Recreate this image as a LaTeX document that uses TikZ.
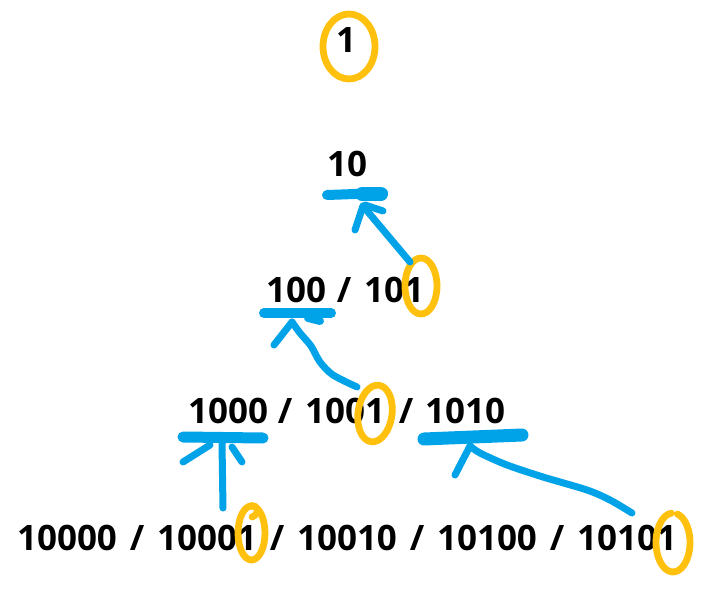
\documentclass[tikz,border=0pt]{standalone}
\usepackage{fontspec}
\setmainfont{Open Sans}
\definecolor{inkblue}{RGB}{0,162,232}
\definecolor{inkyellow}{RGB}{255,193,14}
\begin{document}
\begin{tikzpicture}[x=1pt,y=-1pt,
  num/.style={font=\fontsize{35}{42}\selectfont\bfseries, inner sep=0pt, anchor=base, text=black},
  bar/.style={draw=inkblue, line width=11pt, line cap=round},
  stroke/.style={draw=inkblue, line width=7pt, line cap=round, line join=round},
  ring/.style={draw=inkyellow, line width=6.8pt, line cap=round, line join=round}]
\fill[white] (0,0) rectangle (710,594);
\useasboundingbox (0,0) rectangle (710,594);

% text
\node[num] (n1) at (346,53) {1};
\node[num] (n10) at (347,176) {10};
\node[num] (n100) at (296,302) {100};
\node[num] (s1) at (344,302) {/};
\node[num] (n101) at (394,302) {101};
\node[num] (n1000) at (228,423) {1000};
\node[num] (s2) at (285,423) {/};
\node[num] (n1001) at (345,423) {1001};
\node[num] (s3) at (406,423) {/};
\node[num] (n1010) at (465,423) {1010};
\node[num] (n10000) at (67,550) {10000};
\node[num] (s4) at (137,550) {/};
\node[num] (n10001) at (207,550) {10001};
\node[num] (s5) at (277,550) {/};
\node[num] (n10010) at (347,550) {10010};
\node[num] (s6) at (417,550) {/};
\node[num] (n10100) at (487,550) {10100};
\node[num] (s7) at (557,550) {/};
\node[num] (n10101) at (627,550) {10101};

% yellow rings
\draw[ring] (349,46.5) ellipse [x radius=26, y radius=32.5];
\draw[ring] (421,286) ellipse [x radius=16, y radius=28];
\draw[ring, rotate around={-8:(375,413.5)}] (375,413.5) ellipse [x radius=17, y radius=28.5];
\draw[ring] (251.5,533) ellipse [x radius=13.5, y radius=27];
\draw[ring] (252,517) .. controls (260,514) and (259,504) .. (250,506);
\draw[ring] (673,542.5) ++(264:17 and 29.5) arc [start angle=264, end angle=-75, x radius=17, y radius=29.5];

% arrow 101 -> 10
\coordinate (a1s) at (410,262);
\coordinate (a1t) at (363,206);
\draw[stroke] (a1s) -- (a1t);
\draw[stroke] (a1t) -- (355,230);
\draw[stroke] (365,205) -- (383,211);
\draw[bar, line width=10pt] (327,195) -- (383,193);
\draw[bar, line width=14pt] (362,194) -- (381,194);

% arrow 1001 -> 100
\coordinate (a2s) at (357,387);
\coordinate (a2t) at (292,322);
\draw[stroke] plot[smooth] coordinates {(a2s) (333,375) (320,362) (311,346) (300,333) (a2t)};
\draw[stroke] (a2t) -- (274,345);
\draw[bar, line width=10pt] (264,313) -- (331,313);
\draw[bar, line width=8pt] (308,318) -- (320,321);

% arrow 10001 -> 1000
\coordinate (a3s) at (223,508);
\coordinate (a3t) at (222,443);
\draw[stroke] (a3s) -- (a3t);
\draw[stroke] (210,445) -- (183,462);
\draw[stroke] (232,447) -- (242,462);
\draw[bar, line width=11pt] (183,437) -- (263,438);

% arrow 10101 -> 1010
\coordinate (a4s) at (632,513);
\coordinate (a4t) at (470,446);
\draw[stroke] plot[smooth] coordinates {(a4s) (610,500) (587,490) (543,477) (507,465) (480,453) (a4t)};
\draw[stroke] (a4t) -- (455,475);
\draw[bar, line width=13pt] (424,439) -- (522,435);
\end{tikzpicture}
\end{document}
